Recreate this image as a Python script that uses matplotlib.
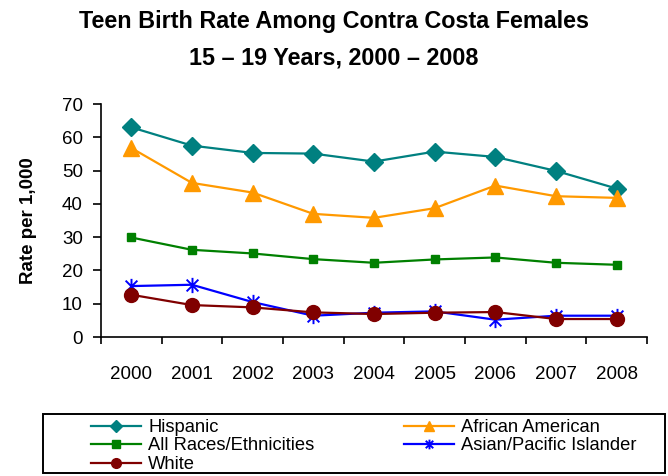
import matplotlib
matplotlib.use('Agg')
import matplotlib.pyplot as plt
from matplotlib.lines import Line2D
from matplotlib.patches import Rectangle
from matplotlib.path import Path

plt.rcParams['font.family'] = ['Liberation Sans', 'DejaVu Sans']

years = ['2000', '2001', '2002', '2003', '2004', '2005', '2006', '2007', '2008']
hispanic = [63.0, 57.5, 55.3, 55.1, 52.7, 55.7, 54.1, 49.9, 44.6]
african_american = [56.8, 46.3, 43.4, 37.0, 35.8, 38.7, 45.5, 42.3, 41.8]
all_races = [29.9, 26.2, 25.1, 23.4, 22.3, 23.3, 23.9, 22.3, 21.7]
asian_pi = [15.3, 15.7, 10.5, 6.4, 7.3, 7.7, 5.2, 6.4, 6.4]
white = [12.7, 9.6, 8.9, 7.4, 6.9, 7.3, 7.5, 5.4, 5.4]

# Excel style star: vertical bar plus an x
star = Path([(-1, -1), (1, 1), (-1, 1), (1, -1), (0, -1.3), (0, 1.3)],
            [Path.MOVETO, Path.LINETO, Path.MOVETO, Path.LINETO, Path.MOVETO, Path.LINETO])

series = [
    ('Hispanic', hispanic, '#008080', 'D', 9, 6),
    ('African American', african_american, '#FF9900', '^', 11, 7),
    ('All Races/Ethnicities', all_races, '#008000', 's', 6, 6),
    ('Asian/Pacific Islander', asian_pi, '#0000FF', star, 11, 7),
    ('White', white, '#800000', 'o', 10, 7),
]

fig = plt.figure(figsize=(6.68, 4.76), dpi=100)
ax = fig.add_axes([0.151, 0.292, 0.8176, 0.4895])

x = list(range(len(years)))
handles = {}
for name, vals, color, marker, ms, lms in series:
    kw = dict(color=color, marker=marker, markersize=ms, linewidth=1.6,
              markerfacecolor=color, markeredgecolor=color)
    if marker is star:
        kw['markeredgewidth'] = 1.4
    ax.plot(x, vals, **kw)
    kw['markersize'] = lms
    handles[name] = Line2D([], [], **kw)

ax.set_xlim(-0.5, len(years) - 0.5)
ax.set_ylim(0, 70)
ax.set_yticks(range(0, 71, 10))
ax.set_xticks([i - 0.5 for i in range(len(years) + 1)])
ax.set_xticklabels([])
ax.set_xticks(x, minor=True)
ax.set_xticklabels(years, minor=True)
ax.tick_params(axis='x', which='minor', length=0, pad=21, labelsize=13.5)
ax.tick_params(axis='x', which='major', direction='out', length=5, width=1.2)
ax.tick_params(axis='y', direction='out', length=6, width=1.2, labelsize=13.5, pad=7)
for side in ['top', 'right']:
    ax.spines[side].set_visible(False)
for side in ['left', 'bottom']:
    ax.spines[side].set_linewidth(1.2)

ax.set_ylabel('Rate per 1,000', fontsize=13.5, fontweight='bold', labelpad=18)

fig.text(0.5, 0.955, 'Teen Birth Rate Among Contra Costa Females', ha='center', va='center',
         fontsize=16.8, fontweight='bold')
fig.text(0.5, 0.878, '15 \u2013 19 Years, 2000 \u2013 2008', ha='center', va='center',
         fontsize=16.8, fontweight='bold')

# legend frame drawn separately so the entries can sit inset like the original
fig.patches.append(Rectangle((43 / 668, 1 - 472.5 / 476), 622 / 668, 58.5 / 476,
                             transform=fig.transFigure, fill=False,
                             edgecolor='black', linewidth=1.4))
order = ['Hispanic', 'All Races/Ethnicities', 'White', 'African American', 'Asian/Pacific Islander']
fig.legend([handles[n] for n in order], order, ncol=2, loc='upper left',
           bbox_to_anchor=(91 / 668, 1 - 419 / 476),
           fontsize=13.2, frameon=False,
           handlelength=2.73, labelspacing=0.08, borderpad=0, handletextpad=0.38,
           columnspacing=4.9, borderaxespad=0)

fig.savefig('out.png', dpi=100)
